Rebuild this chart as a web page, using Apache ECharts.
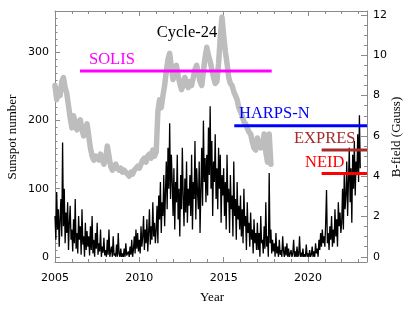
<!DOCTYPE html>
<html><head><meta charset="utf-8">
<script src="https://cdn.jsdelivr.net/npm/echarts@6/dist/echarts.min.js"></script>
<style>html,body{margin:0;padding:0;background:#fff}#c{width:415px;height:317px}</style>
</head><body><div id="c"></div>
<script>
// ---- Sunspot number (sampled every 0.05 yr from 2005.0) ----
const sunspotStart = 2005.0;
const sunspotStep = 0.05;
const sunspotDecline23 = [
  60, 25, 95, 40, 70, 15, 55, 85, 30, 168, 45, 100, 20, 65, 35, 80, 10, 50, 75, 25,
  40, 8, 55, 20, 85, 12, 35, 5, 60, 25, 45, 3, 70, 18, 30, 0, 50, 10, 38, 15,
  30, 2, 45, 10, 60, 5, 25, 0, 35, 12, 50, 3, 20, 8, 40, 0, 15, 6, 28, 2,
  10, 0, 25, 3, 40, 0, 8, 15, 0, 30, 2, 5, 0, 18, 0, 35, 4, 0, 12, 0,
  5, 0, 12, 0, 20, 2, 0, 8, 0, 15, 3, 25, 0, 10, 30, 5, 40, 12, 35, 8
];
const sunspotCycle24 = [
  25, 5, 45, 15, 30, 60, 10, 40, 20, 55, 8, 35, 70, 18, 45, 25, 80, 30, 50, 20,
  40, 75, 20, 90, 55, 110, 35, 80, 60, 120, 45, 95, 140, 70, 160, 100, 196, 85, 150, 110,
  60, 130, 40, 110, 80, 150, 55, 100, 30, 120, 70, 160, 90, 45, 115, 65, 140, 50, 100, 75,
  120, 60, 150, 40, 110, 85, 170, 55, 130, 95, 70, 140, 35, 100, 160, 75, 200, 110, 145, 80,
  150, 90, 190, 120, 221, 100, 170, 60, 140, 110, 180, 85, 130, 70, 160, 100, 150, 50, 120, 90,
  130, 60, 110, 40, 150, 80, 100, 35, 120, 70, 90, 30, 140, 60, 85, 25, 110, 55, 75, 40,
  90, 30, 70, 20, 100, 45, 60, 10, 80, 35, 50, 15, 65, 25, 40, 5, 55, 20, 35, 10,
  50, 10, 35, 0, 60, 20, 25, 5, 45, 12, 80, 15, 30, 0, 123, 20, 40, 5, 25, 8,
  20, 0, 35, 5, 15, 0, 25, 3, 10, 0, 30, 8, 0, 15, 2, 20, 0, 12, 0, 5,
  10, 0, 5, 25, 0, 8, 0, 15, 0, 3, 30, 0, 6, 0, 12, 0, 4, 0, 18, 0
];
const sunspotCycle25 = [
  5, 0, 10, 0, 3, 15, 0, 8, 0, 20, 5, 12, 0, 25, 10, 35, 15, 40, 20, 30,
  15, 50, 98, 20, 35, 10, 45, 25, 60, 15, 40, 20, 70, 30, 55, 15, 80, 45, 65, 35,
  50, 100, 40, 120, 70, 90, 140, 60, 110, 160, 80, 130, 50, 150, 100, 170, 90, 140, 120, 180,
  110, 208, 130
];

// ---- Solar B-field (Gauss), every 0.1 yr from 2005.0 ----
const bfieldStart = 2005.0;
const bfieldStep = 0.1;
const bfield = [
  8.5, 7.8, 8.3, 8.0, 8.7, 8.9, 8.4, 8.1, 7.5, 6.9,
  6.4, 7.0, 6.6, 6.3, 6.7, 6.8, 6.3, 6.0, 6.3, 6.6,
  6.0, 5.4, 5.0, 4.8, 5.0, 4.9, 4.8, 5.1, 4.8, 4.6,
  4.8, 5.5, 5.0, 4.5, 4.3, 4.4, 4.6, 4.4, 4.3, 4.4,
  4.2, 4.3, 4.2, 4.1, 4.0, 4.2, 4.1, 4.3, 4.4, 4.5,
  4.4, 4.6, 4.8, 4.9, 4.7, 5.0, 5.1, 4.9, 5.3, 5.0,
  5.2, 7.2, 7.8, 7.4, 8.0, 8.5, 9.2, 9.8, 10.1, 9.4,
  8.8, 9.2, 9.5, 9.0, 8.6, 8.3, 8.5, 8.9, 8.7, 8.4,
  8.7, 8.5, 8.9, 9.3, 9.5, 9.1, 8.7, 8.5, 9.2, 9.9,
  10.4, 10.0, 9.7, 9.3, 8.9, 8.6, 8.7, 9.6, 10.9, 11.9,
  11.0, 10.2, 9.6, 8.9, 8.6, 8.5, 8.2, 8.0, 7.8, 7.4,
  7.2, 7.0, 6.7, 6.6, 6.4, 6.2, 6.1, 5.7, 5.4, 5.3,
  5.9, 5.6, 5.4, 5.5, 6.1, 5.2, 4.7, 6.1, 4.6
];

// ---- Instrument coverage ----
const instruments = ['SOLIS', 'HARPS-N', 'EXPRES', 'NEID'];
const instStart = [2006.48, 2015.63, 2020.81, 2020.81];
const instEnd = [2017.85, 2023.5, 2023.5, 2023.5];
const instLevel = [9.22, 6.5, 5.3, 4.14];
const instColors = ['#FF00FF', '#0000FF', '#A52A2A', '#FF0000'];

// ---- Ticks ----
const yearMajor = [2005, 2010, 2015, 2020];
const sunspotMajor = [0, 100, 200, 300];
const bfieldMajor = [0, 2, 4, 6, 8, 10, 12];

const yearMinor = [];
for (let y = 2006; y <= 2023; y++) if (y % 5 !== 0) yearMinor.push(y);
const sunspotMinor = [];
for (let v = 10; v <= 360; v += 10) if (v % 100 !== 0) sunspotMinor.push(v);
const bfieldMinor = [];
for (let v = 0.5; v <= 12.01; v += 0.5) if (Math.abs(v % 2) > 0.01) bfieldMinor.push(v);

const sunspotAll = sunspotDecline23.concat(sunspotCycle24, sunspotCycle25);
const sunspotData = sunspotAll.map((v, i) => [sunspotStart + i * sunspotStep, v]);
const bfieldData = bfield.map((v, i) => [bfieldStart + i * bfieldStep, v]);

const AX = '#8a8a8a';
const SANS = 'DejaVu Sans';
const SERIF = 'Liberation Serif';
const X0 = 2005, X1 = 2023.5;
const S0 = -7.6, S1 = 361;
const B0 = -0.257, B1 = 12.2;

function xAx(pos, ticks, len, labels, line) {
  return {
    type: 'value', position: pos, min: X0, max: X1,
    axisLine: { show: line, onZero: false, lineStyle: { color: AX, width: 1 } },
    axisTick: { show: true, inside: true, length: len, customValues: ticks, lineStyle: { color: AX } },
    axisLabel: labels ? { show: true, customValues: ticks, formatter: v => String(v), fontFamily: SANS, fontSize: 11, color: '#000', margin: 11 } : { show: false },
    splitLine: { show: false }
  };
}
function yAx(pos, min, max, ticks, len, labels, line) {
  return {
    type: 'value', position: pos, min: min, max: max,
    axisLine: { show: line, onZero: false, lineStyle: { color: AX, width: 1 } },
    axisTick: { show: true, inside: true, length: len, customValues: ticks, lineStyle: { color: AX } },
    axisLabel: labels ? { show: true, customValues: ticks, formatter: v => String(v), fontFamily: SANS, fontSize: 11, color: '#000', margin: 6 } : { show: false },
    splitLine: { show: false }
  };
}

const series = [
  {
    type: 'line', name: 'B-field', xAxisIndex: 0, yAxisIndex: 2, data: bfieldData,
    showSymbol: false, symbol: 'none', z: 1,
    lineStyle: { color: '#bdbdbd', width: 5.5, join: 'round', cap: 'round' }
  },
  {
    type: 'line', name: 'Sunspot', xAxisIndex: 0, yAxisIndex: 0, data: sunspotData,
    showSymbol: false, symbol: 'none', z: 2,
    lineStyle: { color: '#000', width: 1.3 }
  }
];
instruments.forEach((name, i) => {
  series.push({
    type: 'line', name: name, xAxisIndex: 0, yAxisIndex: 2,
    data: [[instStart[i], instLevel[i]], [instEnd[i], instLevel[i]]],
    showSymbol: false, symbol: 'none', z: 3,
    lineStyle: { color: instColors[i], width: 3 }
  });
});

const labelPos = [[89, 60], [239, 114], [294, 139], [305, 163]];

const chart = echarts.init(document.getElementById('c'), null, { renderer: 'canvas' });
chart.setOption({
  animation: false,
  backgroundColor: '#fff',
  grid: { left: 55, right: 48, top: 11, bottom: 55, containLabel: false },
  xAxis: [
    xAx('bottom', yearMajor, 5, true, true),
    xAx('bottom', yearMinor, 3, false, false),
    xAx('top', yearMajor, 5, false, true),
    xAx('top', yearMinor, 3, false, false)
  ],
  yAxis: [
    yAx('left', S0, S1, sunspotMajor, 5, true, true),
    yAx('left', S0, S1, sunspotMinor, 2.5, false, false),
    yAx('right', B0, B1, bfieldMajor, 6, true, true),
    yAx('right', B0, B1, bfieldMinor, 3, false, false)
  ],
  series: series,
  graphic: [
    { type: 'text', x: 13, y: 137, rotation: Math.PI / 2, style: { text: 'Sunspot number', fontFamily: SERIF, fontSize: 13, fill: '#000', align: 'center', verticalAlign: 'middle' } },
    { type: 'text', x: 397, y: 137, rotation: Math.PI / 2, style: { text: 'B-field (Gauss)', fontFamily: SERIF, fontSize: 13, fill: '#000', align: 'center', verticalAlign: 'middle' } },
    { type: 'text', x: 212, y: 298, style: { text: 'Year', fontFamily: SERIF, fontSize: 13, fill: '#000', align: 'center', verticalAlign: 'middle' } },
    { type: 'text', x: 187, y: 33, z: 10, style: { text: 'Cycle-24', fontFamily: SERIF, fontSize: 16.5, fill: '#000', align: 'center', verticalAlign: 'middle' } }
  ].concat(instruments.map((name, i) => ({
    type: 'text', x: labelPos[i][0], y: labelPos[i][1], z: 10,
    style: { text: name, fontFamily: SERIF, fontSize: 16.5, fill: instColors[i], align: 'left', verticalAlign: 'middle' }
  })))
});
</script>
</body></html>
